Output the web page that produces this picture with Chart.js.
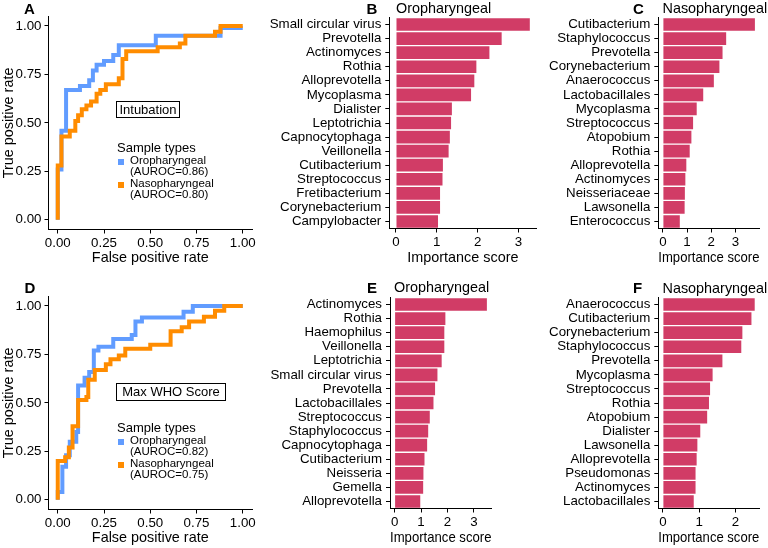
<!DOCTYPE html>
<html>
<head>
<meta charset="utf-8">
<script src="https://cdn.jsdelivr.net/npm/chart.js@4.4.1/dist/chart.umd.min.js"></script>
<style>
  html, body { margin: 0; padding: 0; background: #fff; }
  body { width: 768px; height: 548px; position: relative; overflow: hidden;
         font-family: "Liberation Sans", Arial, sans-serif; color: #000; }
  .row { position: absolute; left: 0; width: 768px; height: 268px; }
  .row canvas { position: absolute; top: 0; }
  .txt { position: absolute; line-height: 1; white-space: nowrap; }
  .box { position: absolute; border: 1.2px solid #000; box-sizing: border-box;
         font-size: 13px; text-align: center; white-space: nowrap; }
  .key { position: absolute; width: 6px; height: 6px; }
</style>
</head>
<body>
<div class="row" id="row1" style="top:0">
  <canvas id="rocA" width="262" height="267" style="left:0"></canvas>
  <canvas id="barB" width="283" height="267" style="left:262px"></canvas>
  <canvas id="barC" width="223" height="267" style="left:545px"></canvas>
</div>
<div class="row" id="row2" style="top:280px">
  <canvas id="rocD" width="262" height="267" style="left:0"></canvas>
  <canvas id="barE" width="283" height="267" style="left:262px"></canvas>
  <canvas id="barF" width="223" height="267" style="left:545px"></canvas>
</div>
<script>
// ---- data ----
const sampleTypes = ['Oropharyngeal', 'Nasopharyngeal'];
const rocTicks = [0, 0.25, 0.5, 0.75, 1];

// ROC, intubation (step points: fpr where the curve rises, tpr it rises to)
const intubOroFpr = [0, 0, 0.02, 0.045, 0.12, 0.17, 0.19, 0.21, 0.25, 0.30, 0.33, 0.53, 0.88, 1.0];
const intubOroTpr = [0, 0.26, 0.46, 0.67, 0.69, 0.72, 0.77, 0.80, 0.82, 0.85, 0.90, 0.95, 0.99, 0.99];
const intubNasoFpr = [0, 0, 0.02, 0.065, 0.095, 0.11, 0.13, 0.155, 0.18, 0.21, 0.23, 0.26, 0.33, 0.35, 0.37, 0.54, 0.66, 0.69, 0.85, 0.88, 1.0];
const intubNasoTpr = [0, 0.28, 0.43, 0.46, 0.51, 0.54, 0.57, 0.59, 0.61, 0.65, 0.67, 0.70, 0.73, 0.83, 0.87, 0.89, 0.91, 0.95, 0.97, 1.0, 1.0];
const intubAuroc = [0.86, 0.80];

// ROC, max WHO score
const whoOroFpr = [0, 0, 0.025, 0.045, 0.065, 0.10, 0.11, 0.145, 0.17, 0.195, 0.22, 0.30, 0.40, 0.42, 0.455, 0.68, 0.73, 1.0];
const whoOroTpr = [0, 0.04, 0.17, 0.23, 0.30, 0.35, 0.59, 0.63, 0.66, 0.77, 0.79, 0.83, 0.85, 0.92, 0.94, 0.97, 1.0, 1.0];
const whoNasoFpr = [0, 0, 0.04, 0.06, 0.08, 0.11, 0.155, 0.165, 0.20, 0.26, 0.285, 0.33, 0.365, 0.50, 0.61, 0.67, 0.71, 0.79, 0.85, 0.90, 1.0];
const whoNasoTpr = [0, 0.20, 0.22, 0.27, 0.38, 0.515, 0.53, 0.62, 0.67, 0.70, 0.725, 0.745, 0.78, 0.80, 0.87, 0.89, 0.92, 0.945, 0.975, 1.0, 1.0];
const whoAuroc = [0.82, 0.75];

// importance scores
const intubOroGenus = ['Small circular virus', 'Prevotella', 'Actinomyces', 'Rothia', 'Alloprevotella', 'Mycoplasma', 'Dialister', 'Leptotrichia', 'Capnocytophaga', 'Veillonella', 'Cutibacterium', 'Streptococcus', 'Fretibacterium', 'Corynebacterium', 'Campylobacter'];
const intubOroScore = [3.28, 2.59, 2.29, 1.97, 1.92, 1.84, 1.37, 1.35, 1.32, 1.29, 1.15, 1.14, 1.08, 1.08, 1.03];
const intubOroTicks = [0, 1, 2, 3];

const intubNasoGenus = ['Cutibacterium', 'Staphylococcus', 'Prevotella', 'Corynebacterium', 'Anaerococcus', 'Lactobacillales', 'Mycoplasma', 'Streptococcus', 'Atopobium', 'Rothia', 'Alloprevotella', 'Actinomyces', 'Neisseriaceae', 'Lawsonella', 'Enterococcus'];
const intubNasoScore = [3.81, 2.62, 2.47, 2.34, 2.11, 1.67, 1.40, 1.25, 1.18, 1.11, 0.97, 0.93, 0.91, 0.90, 0.70];
const intubNasoTicks = [0, 1, 2, 3];

const whoOroGenus = ['Actinomyces', 'Rothia', 'Haemophilus', 'Veillonella', 'Leptotrichia', 'Small circular virus', 'Prevotella', 'Lactobacillales', 'Streptococcus', 'Staphylococcus', 'Capnocytophaga', 'Cutibacterium', 'Neisseria', 'Gemella', 'Alloprevotella'];
const whoOroScore = [3.49, 1.92, 1.88, 1.88, 1.78, 1.62, 1.53, 1.47, 1.33, 1.27, 1.23, 1.13, 1.09, 1.08, 0.97];
const whoOroTicks = [0, 1, 2, 3];

const whoNasoGenus = ['Anaerococcus', 'Cutibacterium', 'Corynebacterium', 'Staphylococcus', 'Prevotella', 'Mycoplasma', 'Streptococcus', 'Rothia', 'Atopobium', 'Dialister', 'Lawsonella', 'Alloprevotella', 'Pseudomonas', 'Actinomyces', 'Lactobacillales'];
const whoNasoScore = [2.53, 2.44, 2.19, 2.16, 1.64, 1.37, 1.30, 1.27, 1.22, 1.03, 0.95, 0.93, 0.90, 0.90, 0.85];
const whoNasoTicks = [0, 1, 2];

// ---- styling ----
const FONT = '"Liberation Sans", Arial, sans-serif';
const lineColors = ['#619CFF', '#FF8C00'];
const barColor = '#D13C66';
const ink = '#000';
const tickFont = { family: FONT, size: 13.3 };
const titleFont = { family: FONT, size: 14.4 };

function axisStyle() {
  return {
    grid: { display: true, drawOnChartArea: false, drawTicks: true, tickLength: 4, tickColor: '#000', offset: false },
    border: { display: true, color: '#000', width: 1 },
  };
}

function rocChart(id, fprs, tprs) {
  new Chart(document.getElementById(id), {
    type: 'line',
    data: {
      datasets: sampleTypes.map((name, i) => ({
        label: name,
        data: fprs[i].map((x, k) => ({ x: x, y: tprs[i][k] })),
        borderColor: lineColors[i],
        borderWidth: 4,
        pointRadius: 0,
        stepped: 'before',
        borderCapStyle: 'butt',
        order: 1 - i,
      })),
    },
    options: {
      animation: false,
      responsive: false,
      devicePixelRatio: 1,
      layout: { padding: { left: 0, top: 16.3, right: 10, bottom: 0 } },
      plugins: { legend: { display: false }, tooltip: { enabled: false } },
      scales: {
        x: {
          type: 'linear', min: -0.05, max: 1.05,
          ...axisStyle(),
          afterFit: s => { s.height = 37.5; },
          afterBuildTicks: s => { s.ticks = rocTicks.map(v => ({ value: v })); },
          ticks: { callback: v => v.toFixed(2), font: tickFont, color: ink, padding: 2, maxRotation: 0 },
          title: { display: true, text: 'False positive rate', font: titleFont, color: ink, padding: 0 },
        },
        y: {
          type: 'linear', min: -0.05, max: 1.05,
          ...axisStyle(),
          afterFit: s => { s.width = 48.5; },
          afterBuildTicks: s => { s.ticks = rocTicks.map(v => ({ value: v })); },
          ticks: { callback: v => v.toFixed(2), font: tickFont, color: ink, padding: 3 },
          title: { display: true, text: 'True positive rate', font: titleFont, color: ink, padding: 0 },
        },
      },
    },
  });
}

function barChart(id, genus, score, tickVals, yWidth, padRight) {
  const top = Math.max(...score);
  new Chart(document.getElementById(id), {
    type: 'bar',
    data: {
      labels: genus,
      datasets: [{ data: score, backgroundColor: barColor, borderWidth: 0, barPercentage: 0.9, categoryPercentage: 1 }],
    },
    options: {
      indexAxis: 'y',
      animation: false,
      responsive: false,
      devicePixelRatio: 1,
      layout: { padding: { left: 0, top: 17.5, right: padRight, bottom: 0 } },
      plugins: { legend: { display: false }, tooltip: { enabled: false } },
      scales: {
        x: {
          type: 'linear', min: -0.05 * top, max: 1.05 * top,
          ...axisStyle(),
          afterFit: s => { s.height = 38.5; },
          afterBuildTicks: s => { s.ticks = tickVals.map(v => ({ value: v })); },
          ticks: { callback: v => String(v), font: tickFont, color: ink, padding: 2, maxRotation: 0 },
          title: { display: true, text: 'Importance score', font: titleFont, color: ink, padding: 0 },
        },
        y: {
          type: 'category', offset: true,
          ...axisStyle(),
          afterFit: s => { s.width = yWidth; },
          ticks: { autoSkip: false, font: tickFont, color: ink, padding: 4 },
        },
      },
    },
  });
}

rocChart('rocA', [intubOroFpr, intubNasoFpr], [intubOroTpr, intubNasoTpr]);
rocChart('rocD', [whoOroFpr, whoNasoFpr], [whoOroTpr, whoNasoTpr]);
barChart('barB', intubOroGenus, intubOroScore, intubOroTicks, 127.3, 8.5);
barChart('barC', intubNasoGenus, intubNasoScore, intubNasoTicks, 113.3, 8.5);
barChart('barE', whoOroGenus, whoOroScore, whoOroTicks, 128, 53.5);
barChart('barF', whoNasoGenus, whoNasoScore, whoNasoTicks, 113.3, 8.7);

// ---- overlay text: panel letters, titles, boxes, legends ----
function text(row, str, left, base, size, bold) {
  const d = document.createElement('div');
  d.className = 'txt';
  d.textContent = str;
  d.style.left = left + 'px';
  d.style.top = (base - 0.85 * size) + 'px';
  d.style.fontSize = size + 'px';
  if (bold) d.style.fontWeight = 'bold';
  document.getElementById(row).appendChild(d);
}

function box(row, str, left, top, w, h) {
  const d = document.createElement('div');
  d.className = 'box';
  d.textContent = str;
  Object.assign(d.style, { left: left + 'px', top: top + 'px', width: w + 'px', height: h + 'px', lineHeight: (h - 2.4) + 'px' });
  document.getElementById(row).appendChild(d);
}

function legend(row, auroc) {
  text(row, 'Sample types', 117, 152, 13);
  sampleTypes.forEach((name, i) => {
    const y = 165 + i * 22.7;
    const k = document.createElement('div');
    k.className = 'key';
    Object.assign(k.style, { left: '118px', top: (y - 5.8) + 'px', background: lineColors[i] });
    document.getElementById(row).appendChild(k);
    text(row, name, 130, y, 11.5);
    text(row, '(AUROC=' + auroc[i].toFixed(2) + ')', 130, y + 11.2, 11.5);
  });
}

text('row1', 'A', 24, 13.5, 15, true);
text('row1', 'B', 366.5, 13.5, 15, true);
text('row1', 'C', 633, 13.5, 15, true);
text('row1', 'Oropharyngeal', 396, 13.3, 14.4);
text('row1', 'Nasopharyngeal', 662.5, 13.3, 14.4);
box('row1', 'Intubation', 116, 100.7, 64, 17.6);
legend('row1', intubAuroc);

text('row2', 'D', 24.5, 13, 15, true);
text('row2', 'E', 367, 12.5, 15, true);
text('row2', 'F', 633, 13, 15, true);
text('row2', 'Oropharyngeal', 394, 12.7, 14.4);
text('row2', 'Nasopharyngeal', 662.5, 13, 14.4);
box('row2', 'Max WHO Score', 116, 102.5, 110, 18.7);
legend('row2', whoAuroc);
</script>
</body>
</html>
